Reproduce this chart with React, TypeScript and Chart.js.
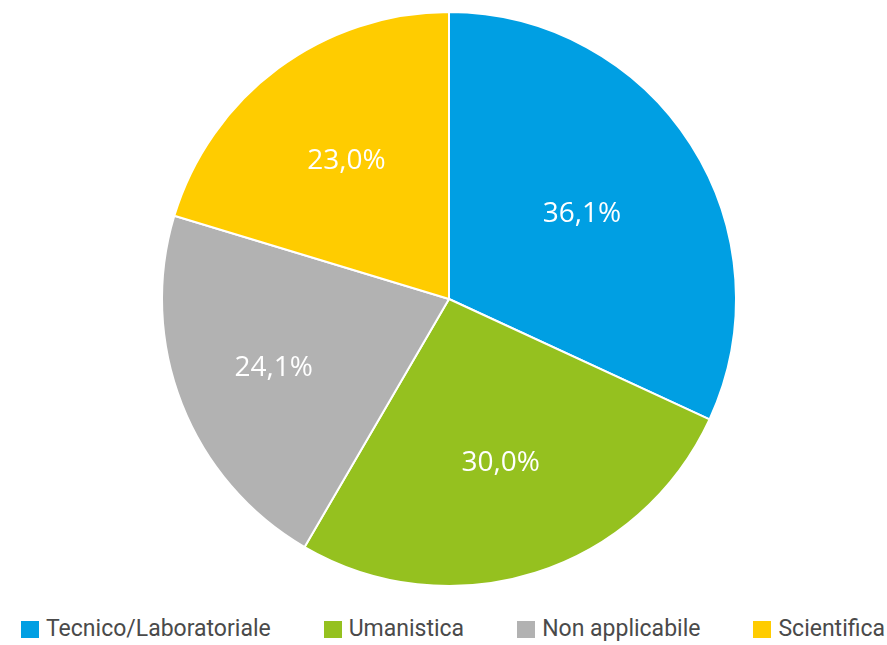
import React, { useEffect, useRef } from "react";
import { Chart, registerables } from "chart.js";

Chart.register(...registerables);

const categories = ["Tecnico/Laboratoriale", "Umanistica", "Non applicabile", "Scientifica"];
const values = [36.1, 30.0, 24.1, 23.0];
const valueLabels = ["36,1%", "30,0%", "24,1%", "23,0%"];
const colors = ["#009FE3", "#95C11F", "#B2B2B2", "#FFCC00"];
const labelRadius = [0.55, 0.6, 0.656, 0.6];

const labelPlugin = {
  id: "sliceLabels",
  afterDatasetsDraw(chart: any) {
    const ctx = chart.ctx;
    const meta = chart.getDatasetMeta(0);
    ctx.save();
    ctx.fillStyle = "#ffffff";
    ctx.font = "500 28px 'Open Sans', sans-serif";
    ctx.textAlign = "center";
    ctx.textBaseline = "middle";
    meta.data.forEach((arc: any, i: number) => {
      const p = arc.getProps(["x", "y", "startAngle", "endAngle", "outerRadius"], true);
      const mid = (p.startAngle + p.endAngle) / 2;
      const r = p.outerRadius * labelRadius[i];
      ctx.fillText(valueLabels[i], p.x + Math.cos(mid) * r, p.y + Math.sin(mid) * r);
    });
    ctx.restore();
  },
};

export default function App() {
  const ref = useRef<HTMLCanvasElement | null>(null);
  useEffect(() => {
    document.body.style.margin = "0";
    const chart = new Chart(ref.current!, {
      type: "pie",
      data: {
        labels: categories,
        datasets: [
          {
            data: values,
            backgroundColor: colors,
            borderColor: "#ffffff",
            borderWidth: 2,
          },
        ],
      },
      options: {
        animation: false,
        responsive: false,
        layout: { padding: { top: 11, left: 11, right: 0, bottom: 11 } },
        plugins: {
          tooltip: { enabled: false },
          legend: { display: false },
        },
      },
      plugins: [labelPlugin],
    });
    return () => chart.destroy();
  }, []);
  return (
    <div style={{ width: 887, height: 645, position: "relative", fontFamily: "Roboto, sans-serif" }}>
      <canvas ref={ref} width={887} height={598} style={{ display: "block" }} />
      <div
        style={{
          position: "absolute",
          top: 617,
          left: 21,
          height: 24,
          display: "flex",
          alignItems: "center",
          gap: 53,
          whiteSpace: "nowrap",
        }}
      >
        {categories.map((c, i) => (
          <div key={c} style={{ display: "flex", alignItems: "center" }}>
            <span style={{ width: 18, height: 17, background: colors[i], display: "inline-block", marginRight: 7 }} />
            <span style={{ fontSize: 23, color: "#4a4a4a", lineHeight: "24px" }}>{c}</span>
          </div>
        ))}
      </div>
    </div>
  );
}
